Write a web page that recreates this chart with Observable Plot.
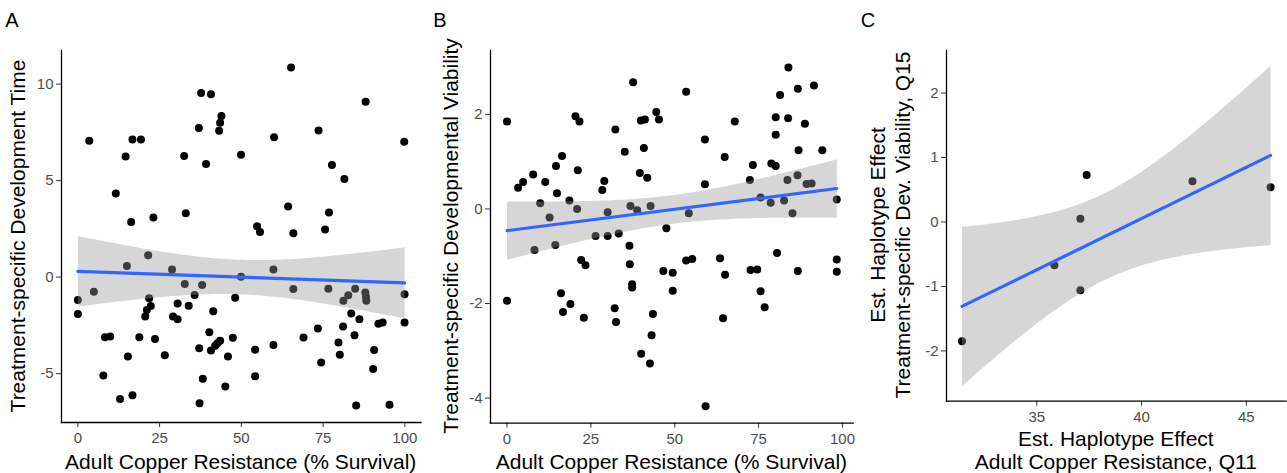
<!DOCTYPE html>
<html><head><meta charset="utf-8">
<script src="https://cdn.jsdelivr.net/npm/d3@7"></script>
<script src="https://cdn.jsdelivr.net/npm/@observablehq/plot@0.6"></script>
<style>
html,body{margin:0;padding:0;background:#fff;}
#wrap{position:relative;width:1287px;height:473px;overflow:hidden;font-family:"Liberation Sans",Arial,sans-serif;}
#wrap svg{position:absolute;top:0;overflow:visible;}
</style></head><body><div id="wrap"></div>
<script>
// Panel A: adult copper resistance (% survival) vs treatment-specific development time
const aSurvival = [3.5,11.6,14.6,16.3,16.7,19.3,23.1,32.5,33.0,37.0,37.7,40.7,39.2,43.2,43.5,43.9,49.9,54.8,55.7,60.0,64.3,65.2,65.9,73.6,75.6,76.8,77.7,81.5,88.0,99.8,
  0,0,4.9,8.3,9.9,7.8,12.9,16.7,15.0,15.3,18.8,20.6,21.1,21.8,22.3,21.5,23.6,26.6,28.8,29.1,30.5,30.5,32.7,33.9,35.7,37.1,37.2,38.0,38.2,40.2,40.7,41.4,42.0,42.7,43.5,45.1,45.9,47.4,48.1,49.9,54.2,54.2,59.8,59.8,65.9,69.0,73.4,74.4,76.6,79.7,80.1,81.1,81.2,82.7,83.6,84.6,84.8,85.1,86.1,87.9,88.1,88.2,90.3,90.6,91.9,93.2,95.3,99.9,99.9];
const aDevTime = [7.06,4.33,6.25,2.85,7.13,7.13,3.09,6.27,3.31,7.72,9.54,9.48,5.86,7.58,8.0,8.35,6.34,2.63,2.34,7.25,3.66,10.86,2.27,7.59,2.47,3.35,5.81,5.09,9.09,7.01,
  -1.19,-1.91,-0.76,-3.11,-3.08,-5.09,-6.31,-6.12,0.58,-4.11,-3.11,-2.04,-1.70,-1.10,-1.49,1.13,-3.21,-4.04,0.40,-2.04,-2.18,-1.36,-0.36,-1.48,-0.93,-3.69,-6.53,-0.41,-5.27,-2.85,-3.80,-1.77,-3.56,-3.42,-3.30,-5.67,-4.11,-3.14,-1.07,0.02,-3.76,-5.14,0.40,-3.51,-0.62,-3.13,-2.66,-4.42,-0.60,-3.39,-4.02,-2.56,-1.22,-0.94,-1.89,-3.01,-0.60,-6.65,-2.18,-0.79,-1.01,-1.22,-4.76,-3.78,-2.42,-2.35,-6.61,-0.89,-2.35];

// Panel B: adult copper resistance (% survival) vs treatment-specific developmental viability
const bSurvival = [0,3.3,4.8,7.8,9.9,11.4,12.7,14.9,14.6,16.4,18.6,20.4,21.6,21.1,20.9,26.4,28.4,29.0,30.0,30.0,32.3,33.3,35.1,36.8,37.6,38.8,39.6,39.9,41.1,40.8,41.8,42.8,44.5,45.3,47.5,53.4,54.2,59.0,59.0,64.9,67.9,72.4,73.3,75.6,78.6,78.8,80.1,80.1,80.1,81.4,82.6,83.6,83.9,83.8,85.1,86.7,86.9,86.6,88.8,89.3,90.8,91.5,94.0,98.3,
  8.2,14.4,22.1,23.4,36.5,36.6,37.3,37.3,46.6,49.4,49.4,53.4,55.2,63.5,65.0,72.6,74.6,75.6,76.8,80.5,86.7,98.3,98.3,0,16.1,16.7,18.9,22.9,32.1,32.5,40.0,42.6,43.1,43.5,59.2,64.4];
const bViability = [1.85,0.45,0.57,0.73,0.12,0.57,-0.18,0.33,0.91,1.12,0.18,1.96,1.85,0.82,0.0,-0.57,0.40,0.59,-0.07,-0.57,1.68,-0.52,1.21,0.06,2.68,-0.03,0.76,1.87,1.89,1.29,0.66,0.06,2.05,1.89,-0.41,2.48,-0.09,1.47,0.52,1.10,1.85,0.61,0.93,0.24,0.13,0.96,0.91,1.57,1.94,2.41,0.18,0.61,2.99,1.92,-0.09,2.54,1.24,0.71,1.80,0.53,0.54,2.61,1.24,0.20,
  -0.87,-0.76,-1.08,-1.19,-0.78,-1.17,-1.59,-1.66,-1.31,-1.35,-1.73,-1.09,-1.06,-1.04,-1.39,-1.29,-1.28,-1.74,-2.08,-0.93,-1.31,-1.07,-1.33,-1.94,-1.78,-2.18,-2.01,-2.30,-2.10,-2.39,-3.06,-3.27,-2.67,-2.22,-4.17,-2.31];

// Panel C: estimated haplotype effects
const cCopperQ11 = [31.43,35.84,37.08,37.08,37.38,42.43,46.16];
const cViabilityQ15 = [-1.85,-0.67,-1.06,0.05,0.73,0.63,0.54];

const survivalTicks = [0,25,50,75,100];
const aYTicks = [-5,0,5,10];
const bYTicks = [-4,-2,0,2];
const cXTicks = [35,40,45];
const cYTicks = [-2,-1,0,1,2];

const zip = (xs, ys) => xs.map((x, i) => ({x, y: ys[i]}));

const wrap = document.getElementById("wrap");
const FONT = "Liberation Sans, Arial, sans-serif";
const fmt = (d) => String(d);

function panel(o) {
  const data = zip(o.xs, o.ys);
  const svg = Plot.plot({
    width: o.width, height: 473,
    marginLeft: o.ml, marginRight: o.mr, marginTop: 50, marginBottom: o.mb,
    style: {fontFamily: FONT, background: "transparent", overflow: "visible"},
    x: {domain: o.xDomain},
    y: {domain: o.yDomain},
    marks: [
      Plot.axisX({ticks: o.xTicks, tickFormat: fmt, tickSize: 5, tickPadding: 5, fontSize: 15, stroke: "#333", fill: "#4d4d4d", label: null}),
      Plot.axisY({ticks: o.yTicks, tickFormat: fmt, tickSize: 5, tickPadding: 3, fontSize: 15, stroke: "#333", fill: "#4d4d4d", label: null}),
      Plot.dot(data, {x: "x", y: "y", r: 4, fill: "#000"}),
      Plot.linearRegressionY(data, {x: "x", y: "y", stroke: "#3366FF", strokeWidth: 3.2, fill: "#999999", fillOpacity: 0.4}),
      Plot.frame({anchor: "left", stroke: "#000", strokeWidth: 1.3}),
      Plot.frame({anchor: "bottom", stroke: "#000", strokeWidth: 1.3})
    ]
  });
  svg.style.left = o.left + "px";
  const s = d3.select(svg);
  s.append("text").attr("x", o.letterX).attr("y", 27).attr("font-size", 20).attr("fill", "#000").attr("font-family", FONT).text(o.letter);
  o.xTitle.forEach((t, i) => {
    s.append("text").attr("x", o.xTitleX).attr("y", o.xTitleY[i]).attr("text-anchor", "middle")
      .attr("font-size", 21).attr("fill", "#000").attr("font-family", FONT).text(t);
  });
  o.yTitle.forEach((t, i) => {
    s.append("text").attr("transform", `translate(${o.yTitleX[i]},${o.yTitleCY}) rotate(-90)`).attr("text-anchor", "middle")
      .attr("font-size", 21).attr("fill", "#000").attr("font-family", FONT).text(t);
  });
  wrap.appendChild(svg);
}

panel({left: 0, width: 425, ml: 61, mr: 4.6, mb: 51, xs: aSurvival, ys: aDevTime,
  xDomain: [-5, 104.9], yDomain: [-7.53, 11.74], xTicks: survivalTicks, yTicks: aYTicks,
  letter: "A", letterX: 12, xTitle: ["Adult Copper Resistance (% Survival)"], xTitleX: 240.7, xTitleY: [469],
  yTitle: ["Treatment-specific Development Time"], yTitleX: [25], yTitleCY: 236});

panel({left: 425, width: 432, ml: 65, mr: 4.3, mb: 50.3, xs: bSurvival, ys: bViability,
  xDomain: [-4.92, 103.2], yDomain: [-4.53, 3.35], xTicks: survivalTicks, yTicks: bYTicks,
  letter: "B", letterX: 15, xTitle: ["Adult Copper Resistance (% Survival)"], xTitleX: 246.4, xTitleY: [469],
  yTitle: ["Treatment-specific Developmental Viability"], yTitleX: [33], yTitleCY: 236});

panel({left: 857, width: 430, ml: 89, mr: 1.4, mb: 72.3, xs: cCopperQ11, ys: cViabilityQ15,
  xDomain: [30.69, 46.9], yDomain: [-2.78, 2.66], xTicks: cXTicks, yTicks: cYTicks,
  letter: "C", letterX: 11, xTitle: ["Est. Haplotype Effect", "Adult Copper Resistance, Q11"], xTitleX: 258.8, xTitleY: [446, 469],
  yTitle: ["Est. Haplotype Effect", "Treatment-specific Dev. Viability, Q15"], yTitleX: [28, 53], yTitleCY: 225});
</script>
</body></html>
